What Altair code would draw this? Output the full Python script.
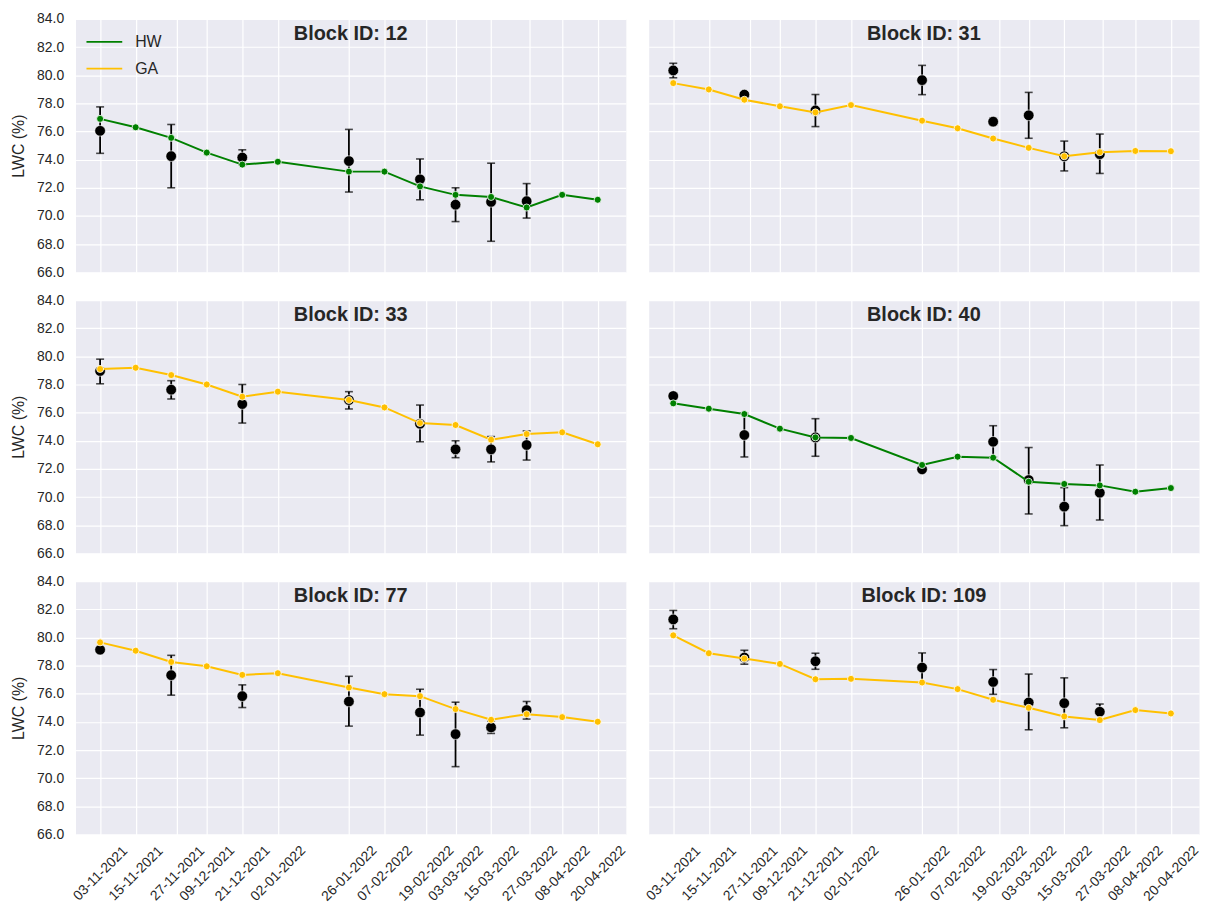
import altair as alt
import pandas as pd

# ---------------- data ----------------
line_dates = ["2021-11-03", "2021-11-15", "2021-11-27", "2021-12-09", "2021-12-21", "2022-01-02",
              "2022-01-26", "2022-02-07", "2022-02-19", "2022-03-03", "2022-03-15", "2022-03-27",
              "2022-04-08", "2022-04-20"]
obs_dates = ["2021-11-03", "2021-11-27", "2021-12-21", "2022-01-26", "2022-02-19", "2022-03-03",
             "2022-03-15", "2022-03-27"]
tick_positions = ["2021-11-03", "2021-11-15", "2021-11-29", "2021-12-09", "2021-12-21", "2022-01-02",
                  "2022-01-26", "2022-02-07", "2022-02-21", "2022-03-03", "2022-03-15", "2022-03-28",
                  "2022-04-08", "2022-04-20"]
tick_labels = ["03-11-2021", "15-11-2021", "27-11-2021", "09-12-2021", "21-12-2021", "02-01-2022",
               "26-01-2022", "07-02-2022", "19-02-2022", "03-03-2022", "15-03-2022", "27-03-2022",
               "08-04-2022", "20-04-2022"]

block_ids = [12, 31, 33, 40, 77, 109]
block_groups = ["HW", "GA", "GA", "HW", "GA", "GA"]
groups = ["HW", "GA"]

model_12 = [76.9, 76.3, 75.55, 74.5, 73.65, 73.85, 73.15, 73.15, 72.1, 71.5, 71.35, 70.6, 71.5, 71.15]
obs_12 = [76.05, 74.25, 74.15, 73.9, 72.6, 70.8, 71.0, 71.05]
low_12 = [74.45, 72.0, 73.65, 71.7, 71.15, 69.6, 68.2, 69.85]
high_12 = [77.75, 76.5, 74.7, 76.15, 74.05, 72.0, 73.75, 72.3]

model_31 = [79.44, 78.99, 78.26, 77.79, 77.36, 77.88, 76.77, 76.23, 75.5, 74.84, 74.24, 74.53, 74.62, 74.6]
obs_31 = [80.34, 78.62, 77.5, 79.65, 76.7, 77.15, 74.24, 74.39]
low_31 = [79.82, 78.45, 76.35, 78.62, 76.45, 75.52, 73.2, 73.02]
high_31 = [80.85, 78.78, 78.63, 80.7, 76.95, 78.78, 75.32, 75.82]

model_33 = [79.1, 79.19, 78.67, 78.0, 77.13, 77.49, 76.9, 76.37, 75.26, 75.12, 74.08, 74.48, 74.6, 73.75]
obs_33 = [78.96, 77.63, 76.61, 76.9, 75.21, 73.39, 73.39, 73.7]
low_33 = [78.05, 76.97, 75.26, 76.26, 73.93, 72.8, 72.5, 72.63]
high_33 = [79.8, 78.27, 78.0, 77.49, 76.54, 74.0, 74.3, 74.7]

model_40 = [76.66, 76.28, 75.9, 74.86, 74.24, 74.2, 72.28, 72.87, 72.8, 71.09, 70.93, 70.83, 70.38, 70.64]
obs_40 = [77.18, 74.41, 74.24, 71.97, 73.93, 71.21, 69.32, 70.31]
low_40 = [76.98, 72.85, 72.9, 71.82, 72.85, 68.8, 67.97, 68.37]
high_40 = [77.38, 75.97, 75.57, 72.12, 75.07, 73.52, 70.67, 72.28]

model_77 = [79.65, 79.06, 78.26, 77.95, 77.34, 77.46, 76.44, 75.97, 75.83, 74.91, 74.15, 74.55, 74.34, 74.01]
obs_77 = [79.13, 77.32, 75.83, 75.45, 74.67, 73.13, 73.61, 74.84]
low_77 = [78.98, 75.9, 75.02, 73.7, 73.06, 70.82, 73.18, 74.2]
high_77 = [79.28, 78.73, 76.63, 77.24, 76.32, 75.4, 74.05, 75.45]

model_109 = [80.15, 78.88, 78.5, 78.12, 77.03, 77.06, 76.8, 76.33, 75.57, 75.0, 74.39, 74.13, 74.84, 74.6]
obs_109 = [81.28, 78.57, 78.31, 77.86, 76.84, 75.38, 75.33, 74.72]
low_109 = [80.62, 78.1, 77.74, 76.8, 75.96, 73.44, 73.58, 74.17]
high_109 = [81.92, 79.09, 78.88, 78.9, 77.72, 77.4, 77.13, 75.27]

y_ticks = [66, 68, 70, 72, 74, 76, 78, 80, 82, 84]

models = [model_12, model_31, model_33, model_40, model_77, model_109]
obs = [obs_12, obs_31, obs_33, obs_40, obs_77, obs_109]
lows = [low_12, low_31, low_33, low_40, low_77, low_109]
highs = [high_12, high_31, high_33, high_40, high_77, high_109]

# ---------------- style ----------------
GREEN = "#008000"
GOLD = "#FFC000"
TEXT = "#262626"
FONT = "Liberation Sans"
W, H = 554, 255


def dt(s):
    t = pd.Timestamp(s)
    return alt.DateTime(year=t.year, month=t.month, date=t.day, hours=t.hour)


x_domain = [alt.DateTime(year=2021, month=10, date=25, hours=17),
            alt.DateTime(year=2022, month=4, date=29, hours=12)]
tick_values = [dt(s) for s in tick_positions]
label_expr = "".join(
    f"timeFormat(datum.value, '%Y-%m-%d') == '{pd.Timestamp(p).strftime('%Y-%m-%d')}' ? '{l}' : "
    for p, l in zip(tick_positions, tick_labels)) + "''"


def panel(i, show_x, show_y, show_legend):
    bid = block_ids[i]
    grp = block_groups[i]
    col = GREEN if grp == "HW" else GOLD
    line_df = pd.DataFrame({"date": [d + "T00:00:00" for d in line_dates],
                            "lwc": models[i], "group": grp})
    obs_df = pd.DataFrame({"date": [d + "T00:00:00" for d in obs_dates],
                           "lwc": obs[i], "low": lows[i], "high": highs[i]})

    if show_x:
        xaxis = alt.Axis(values=tick_values, tickCount=40, labelExpr=label_expr, labelAngle=-45,
                         labelAlign="center", labelBaseline="middle", labelPadding=39,
                         labelFontSize=14, title=None, grid=True, labelOverlap=False)
    else:
        xaxis = alt.Axis(values=tick_values, tickCount=40, labels=False, title=None, grid=True)
    if show_y:
        yaxis = alt.Axis(values=y_ticks, tickCount=40, format=".1f", title="LWC (%)",
                         labelPadding=12, titlePadding=10, labelFontSize=14, titleFontSize=16,
                         titleFontWeight="normal", grid=True, labelOverlap=False)
    else:
        yaxis = alt.Axis(values=y_ticks, tickCount=40, labels=False, title=None, grid=True)

    xs = alt.Scale(domain=x_domain)
    ys = alt.Scale(domain=[66, 84], nice=False, zero=False)
    X = alt.X("date:T", scale=xs, axis=xaxis)
    Y = alt.Y("lwc:Q", scale=ys, axis=yaxis)

    base_obs = alt.Chart(obs_df)
    err = base_obs.mark_rule(color="black", strokeWidth=1.8).encode(
        x=alt.X("date:T", scale=xs, axis=xaxis),
        y=alt.Y("low:Q", scale=ys, axis=yaxis), y2="high:Q")
    cap_lo = base_obs.mark_tick(color="black", orient="horizontal", size=8, thickness=1.6).encode(
        x=alt.X("date:T", scale=xs), y=alt.Y("low:Q", scale=ys))
    cap_hi = base_obs.mark_tick(color="black", orient="horizontal", size=8, thickness=1.6).encode(
        x=alt.X("date:T", scale=xs), y=alt.Y("high:Q", scale=ys))
    pts = base_obs.mark_point(filled=True, fill="black", stroke="white", strokeWidth=0.6,
                              size=115, opacity=1).encode(x=X, y=Y)

    if show_legend:
        legend = alt.Legend(title=None, orient="none", legendX=10, legendY=4,
                            symbolType="stroke", symbolSize=1296, symbolStrokeWidth=1.8,
                            labelFontSize=16, labelFont=FONT, labelColor=TEXT,
                            labelOffset=12, rowPadding=-16, padding=0)
        color = alt.Color("group:N", scale=alt.Scale(domain=groups, range=[GREEN, GOLD]),
                          legend=legend)
    else:
        color = alt.value(col)

    base_line = alt.Chart(line_df)
    line = base_line.mark_line(strokeWidth=2).encode(x=X, y=Y, color=color)
    lpts = base_line.mark_point(filled=True, fill=col, stroke="white", strokeWidth=0.8,
                                size=50, opacity=1).encode(x=X, y=Y)

    title = alt.Chart(pd.DataFrame({"t": [f"Block ID: {bid}"]})).mark_text(
        font=FONT, fontSize=20, fontWeight="bold", color=TEXT, baseline="middle",
        align="center").encode(x=alt.value(W / 2), y=alt.value(15), text="t:N")

    return alt.layer(err, cap_lo, cap_hi, pts, line, lpts, title).properties(width=W, height=H)


panels = []
for r in range(3):
    panels.append(panel(2 * r, r == 2, True, r == 0))
    panels.append(panel(2 * r + 1, r == 2, False, False))

chart = alt.concat(*panels, columns=2, spacing={"row": 28, "column": 23}, bounds="flush").resolve_scale(
    color="independent").resolve_legend(color="independent").properties(
    padding={"left": 2, "top": 0, "right": 0, "bottom": 0}
).configure_view(fill="#EAEAF2", stroke="transparent").configure_axis(
    gridColor="white", gridWidth=1.2, domain=False, ticks=False,
    labelFont=FONT, titleFont=FONT, labelColor=TEXT, titleColor=TEXT
)

chart.save("out.html", embed_options={"renderer": "svg", "actions": False})
